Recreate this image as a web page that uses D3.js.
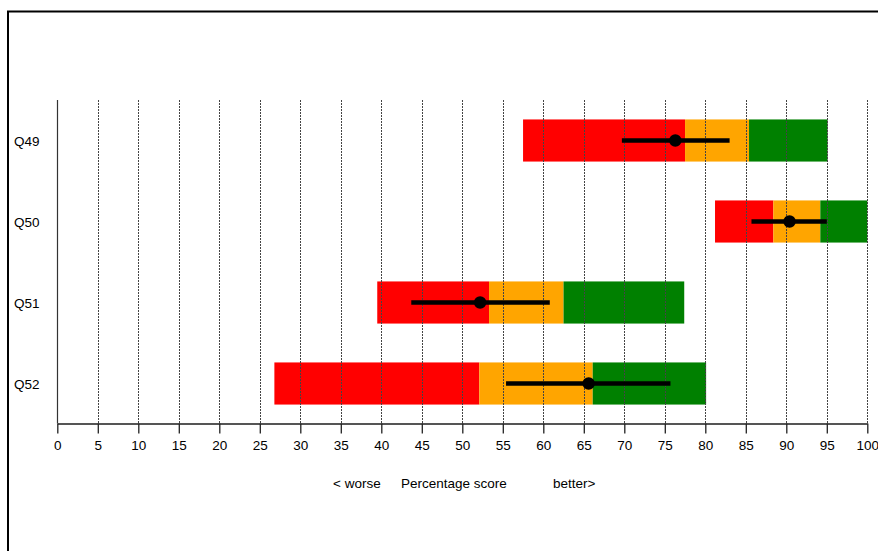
<!DOCTYPE html>
<html>
<head>
<meta charset="utf-8">
<script src="https://cdn.jsdelivr.net/npm/d3@7"></script>
<style>
  body { margin: 0; background: #fff; }
  text { font-family: "Liberation Sans", Arial, sans-serif; }
</style>
</head>
<body>
<div id="chart"></div>
<script>
var questions = ['Q49', 'Q50', 'Q51', 'Q52']
// band edges: red start, orange start, green start, green end
var redStart = [57.5, 81.2, 39.5, 26.8]
var orangeStart = [77.5, 88.4, 53.3, 52.1]
var greenStart = [85.4, 94.2, 62.5, 66.1]
var greenEnd = [95.1, 100, 77.4, 80.1]
// score and interval
var score = [76.3, 90.4, 52.2, 65.6]
var ciLow = [69.7, 85.7, 43.7, 55.4]
var ciHigh = [83.0, 95.0, 60.8, 75.7]
var xTicks = d3.range(0, 101, 5)

var width = 878, height = 551
var svg = d3.select('#chart').append('svg')
  .attr('width', width)
  .attr('height', height)

// outer frame (runs off the right and bottom)
svg.append('path')
  .attr('d', 'M8,' + (height + 5) + 'V11.5H' + (width + 5))
  .attr('fill', 'none')
  .attr('stroke', '#000')
  .attr('stroke-width', 2)

var plotTop = 100, axisY = 423.5
var x = d3.scaleLinear().domain([0, 100]).range([57.3, 867.3])
var y = d3.scaleBand().domain(questions).range([plotTop, plotTop + 324])
  .paddingInner(0.48).paddingOuter(0.24)

var rows = questions.map(function(q, i) {
  return { q: q, segs: [
    { a: redStart[i], b: orangeStart[i], c: '#ff0000' },
    { a: orangeStart[i], b: greenStart[i], c: '#ffa500' },
    { a: greenStart[i], b: greenEnd[i], c: '#008000' }
  ], s: score[i], lo: ciLow[i], hi: ciHigh[i] }
})

// bars
var g = svg.append('g')
rows.forEach(function(r) {
  g.selectAll(null).data(r.segs).enter().append('rect')
    .attr('x', function(d) { return x(d.a) })
    .attr('y', y(r.q))
    .attr('width', function(d) { return x(d.b) - x(d.a) })
    .attr('height', y.bandwidth())
    .attr('fill', function(d) { return d.c })
})

// grid lines on top of bars
svg.append('g').selectAll('line').data(xTicks.slice(1)).enter().append('line')
  .attr('x1', function(d) { return Math.round(x(d)) + 0.5 })
  .attr('x2', function(d) { return Math.round(x(d)) + 0.5 })
  .attr('y1', plotTop).attr('y2', axisY)
  .attr('stroke', '#444')
  .attr('stroke-width', 1)
  .attr('stroke-dasharray', '2,1')

svg.append('line')
  .attr('x1', Math.round(x(0)) + 0.5).attr('x2', Math.round(x(0)) + 0.5)
  .attr('y1', plotTop).attr('y2', axisY)
  .attr('stroke', '#333').attr('stroke-width', 1.2)

// intervals and points
rows.forEach(function(r) {
  var cy = y(r.q) + y.bandwidth() / 2
  svg.append('line')
    .attr('x1', x(r.lo)).attr('x2', x(r.hi))
    .attr('y1', cy).attr('y2', cy)
    .attr('stroke', '#000').attr('stroke-width', 4.5)
  svg.append('circle')
    .attr('cx', x(r.s)).attr('cy', cy).attr('r', 6.2)
    .attr('fill', '#000')
})

// x axis
var xAxis = svg.append('g')
  .attr('transform', 'translate(0,' + axisY + ')')
  .call(d3.axisBottom(x).tickValues(xTicks).tickSize(10).tickPadding(7).tickSizeOuter(0))
xAxis.select('.domain').attr('stroke', '#555').attr('stroke-width', 2)
xAxis.selectAll('.tick line').attr('stroke', '#222').attr('stroke-width', 1.3)
xAxis.selectAll('.tick text')
  .attr('font-size', 13.5).attr('fill', '#000')
  .attr('font-family', '"Liberation Sans", Arial, sans-serif')

// row labels
svg.append('g').selectAll('text').data(questions).enter().append('text')
  .attr('x', 14)
  .attr('y', function(d) { return y(d) + y.bandwidth() / 2 + 5 })
  .attr('font-size', 13.5)
  .attr('fill', '#000')
  .text(function(d) { return d })

// axis title
var titleY = 488
svg.append('text').attr('x', 333).attr('y', titleY).attr('font-size', 13.5).attr('fill', '#000').text('< worse')
svg.append('text').attr('x', 401).attr('y', titleY).attr('font-size', 13.5).attr('fill', '#000').text('Percentage score')
svg.append('text').attr('x', 553).attr('y', titleY).attr('font-size', 13.5).attr('fill', '#000').text('better>')
</script>
</body>
</html>
